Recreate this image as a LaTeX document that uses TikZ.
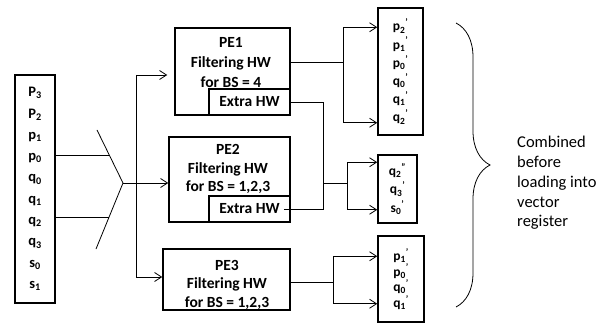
\documentclass[tikz,border=0pt]{standalone}
\usepackage{fontspec}
\setmainfont{Carlito}
\usetikzlibrary{arrows.meta, calc, decorations.pathreplacing}
\newcommand{\vlab}[3]{#1\textsubscript{#2}\textsuperscript{#3}}

\begin{document}
\begin{tikzpicture}[x=1pt, y=-1pt,
    caja/.style={draw, line width=1.5pt, inner sep=0pt},
    linea/.style={line width=0.8pt},
    flecha/.style={linea, -{Straight Barb[length=7pt, width=9pt]}},
    texto/.style={font=\bfseries\fontsize{15.5}{18.5}\selectfont, align=center}]
    \useasboundingbox (0,0) rectangle (615,323);

    % Registro de entrada
    \node[caja, minimum width=40, minimum height=228, align=center,
          font=\bfseries\fontsize{14.5}{21.3}\selectfont] (in) at (35,189)
        {P\textsubscript{3}\\P\textsubscript{2}\\p\textsubscript{1}\\p\textsubscript{0}\\q\textsubscript{0}\\q\textsubscript{1}\\q\textsubscript{2}\\q\textsubscript{3}\\s\textsubscript{0}\\s\textsubscript{1}};

    % Horquilla
    \coordinate (fk-t) at (97,130);
    \coordinate (fk-v) at (123,183);
    \coordinate (fk-b) at (96,249);
    \coordinate (fk-a) at (109.3,155);
    \coordinate (fk-c) at (109.1,217);
    \draw[linea] (fk-t) -- (fk-v) -- (fk-b);
    \draw[linea] (in.east |- fk-a) -- (fk-a);
    \draw[linea] (in.east |- fk-c) -- (fk-c);

    % Elementos de proceso
    \node[caja, minimum width=115, minimum height=87] (pe1) at (232.5,71.5) {};
    \node[caja, minimum width=81, minimum height=26, texto] (ex1) at (249.5,102) {Extra HW};
    \node[texto, font=\bfseries\fontsize{15.5}{20}\selectfont] (pe1-t) at (231,62.5) {PE1\\Filtering HW\\for BS = 4};

    \node[caja, minimum width=121, minimum height=85] (pe2) at (229.5,179.5) {};
    \node[caja, minimum width=81, minimum height=26, texto] (ex2) at (249.5,209) {Extra HW};
    \node[texto] (pe2-t) at (228,169) {PE2\\Filtering HW\\for BS = 1,2,3};

    \node[caja, minimum width=127, minimum height=61] (pe3) at (226.5,279.5) {};
    \node[texto] (pe3-t) at (227,284.5) {PE3\\Filtering HW\\for BS = 1,2,3};

    % Reparto
    \coordinate (bus-t) at (136,75);
    \coordinate (bus-b) at (136,277);
    \draw[linea] (bus-t) -- (bus-b);
    \draw[flecha] (fk-v) -- (fk-v -| pe2.west);
    \draw[flecha, shorten >=7pt] (bus-t) -- (bus-t -| pe1.west);
    \draw[flecha] (bus-b) -- (bus-b -| pe3.west);

    % Registros de salida
    \node[caja, minimum width=45, minimum height=127, align=center,
          font=\bfseries\fontsize{13.5}{18.2}\selectfont] (ob1) at (400.5,71.5)
        {\vlab{p}{2}{'}\\\vlab{p}{1}{'}\\\vlab{p}{0}{'}\\\vlab{q}{0}{'}\\\vlab{q}{1}{'}\\\vlab{q}{2}{'}};
    \node[caja, minimum width=39, minimum height=68, align=center,
          font=\bfseries\fontsize{13.5}{18.5}\selectfont] (ob2) at (397.5,189)
        {\vlab{q}{2}{''}\\\vlab{q}{3}{'}\\\vlab{s}{0}{'}};
    \node[caja, minimum width=46, minimum height=86, align=center,
          font=\bfseries\fontsize{13.5}{15.7}\selectfont] (ob3) at (401,279)
        {\vlab{p}{1}{'}\\\vlab{p}{0}{'}\\\vlab{q}{0}{'}\\\vlab{q}{1}{'}};

    % Conexiones de salida
    \coordinate (j1) at (343,62);
    \draw[linea] (pe1.east |- j1) -- (j1);
    \draw[flecha] (j1) |- ($(ob1.north west)+(0,20)$);
    \draw[flecha] (j1) |- ($(ob1.south west)+(0,-13)$);

    \coordinate (j2) at (323,183);
    \coordinate (j3) at (347,183);
    \draw[linea] (ex1.east) -| (j2);
    \draw[linea] ([xshift=-7pt]ex2.east) -| (j2);
    \draw[linea] (j2) -- (j3);
    \draw[flecha] (j3) |- ($(ob2.north west)+(0,8)$);
    \draw[flecha] (j3) |- ($(ob2.south west)+(0,-14)$);

    \coordinate (j4) at (333,282);
    \draw[linea] (pe3.east |- j4) -- (j4);
    \draw[flecha] (j4) |- ($(ob3.north west)+(0,21)$);
    \draw[flecha] (j4) |- ($(ob3.south west)+(0,-19)$);

    % Llave
    \coordinate (br-t) at (456,23);
    \coordinate (br-b) at (456,307);
    \draw[linea, decorate, decoration={brace, amplitude=34pt, aspect=0.5}] (br-t) -- (br-b);
    \node[anchor=west, align=left, inner sep=0pt,
          font=\fontsize{16.5}{19.8}\selectfont] (cmb) at (517,183)
        {Combined\\before\\loading into\\vector\\register};
\end{tikzpicture}
\end{document}
